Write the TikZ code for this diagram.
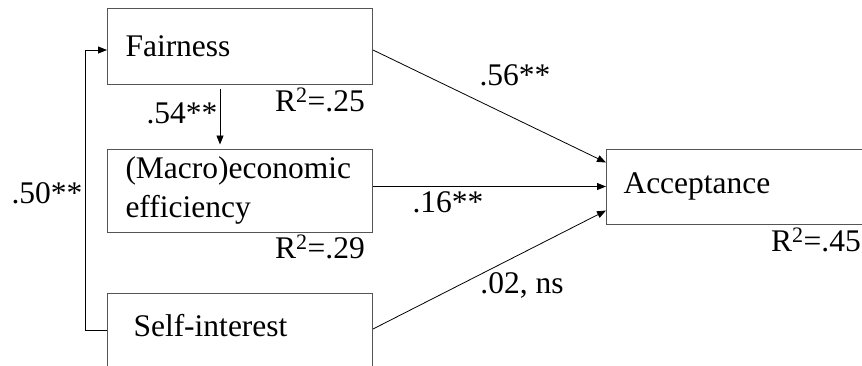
\documentclass[tikz,border=0pt]{standalone}
\usepackage{fontspec}
\setmainfont{Liberation Serif}
\usepackage{tikz}
\usetikzlibrary{arrows.meta, positioning}
\definecolor{box-gray}{RGB}{85, 85, 85}

\begin{document}
\begin{tikzpicture}[
  x=1pt, y=-1pt,
  font=\fontsize{31.5}{39}\selectfont,
  box/.style={rectangle, draw=box-gray, line width=1pt, align=left, inner ysep=0pt},
  arrow/.style={-{Triangle[length=9pt, width=7pt]}, line width=0.8pt},
  coef/.style={inner sep=0pt}
]
  \useasboundingbox (0,0) rectangle (862,365);
  \clip (0,0) rectangle (862,365);

  \node[box, anchor=west, text width=229pt, inner xsep=18pt, minimum height=76pt] (fair) at (107,46) {Fairness};
  \node[box, anchor=west, text width=229pt, inner xsep=18pt, minimum height=83pt] (macro) at (107,190.5) {(Macro)economic\\efficiency};
  \node[box, anchor=north west, text width=213pt, inner xsep=26pt, text height=43pt, text depth=50pt] (self) at (107,293) {Self-interest};
  \node[box, anchor=west, text width=246pt, inner xsep=17pt, minimum height=75pt] (accept) at (606,186.5) {Acceptance};

  \draw[arrow] ([yshift=-4pt]fair.east) -- ([yshift=24pt]accept.west);
  \draw[arrow] (macro.east |- accept.west) -- (accept.west);
  \draw[arrow] ([yshift=-36pt]self.north east) -- ([yshift=-24pt]accept.west);
  \draw[arrow, shorten <=4pt, shorten >=4pt] ([xshift=-20pt]fair.south) -- ([xshift=-20pt]macro.north);
  \draw[arrow] ([yshift=-37pt]self.north west) -- ++(-22,0) |- ([yshift=-4pt]fair.west);

  \node[coef] (c56) at (515,75) {.56**};
  \node[coef] (c54) at (182,113) {.54**};
  \node[coef] (c50) at (47,193) {.50**};
  \node[coef] (c16) at (448,202) {.16**};
  \node[coef] (c02) at (522,285) {.02, ns};
  \node[coef] (r25) at (320,100) {R\textsuperscript{2}=.25};
  \node[coef] (r29) at (320,247) {R\textsuperscript{2}=.29};
  \node[coef, anchor=east] (r45) at (861,240) {R\textsuperscript{2}=.45};
\end{tikzpicture}
\end{document}
